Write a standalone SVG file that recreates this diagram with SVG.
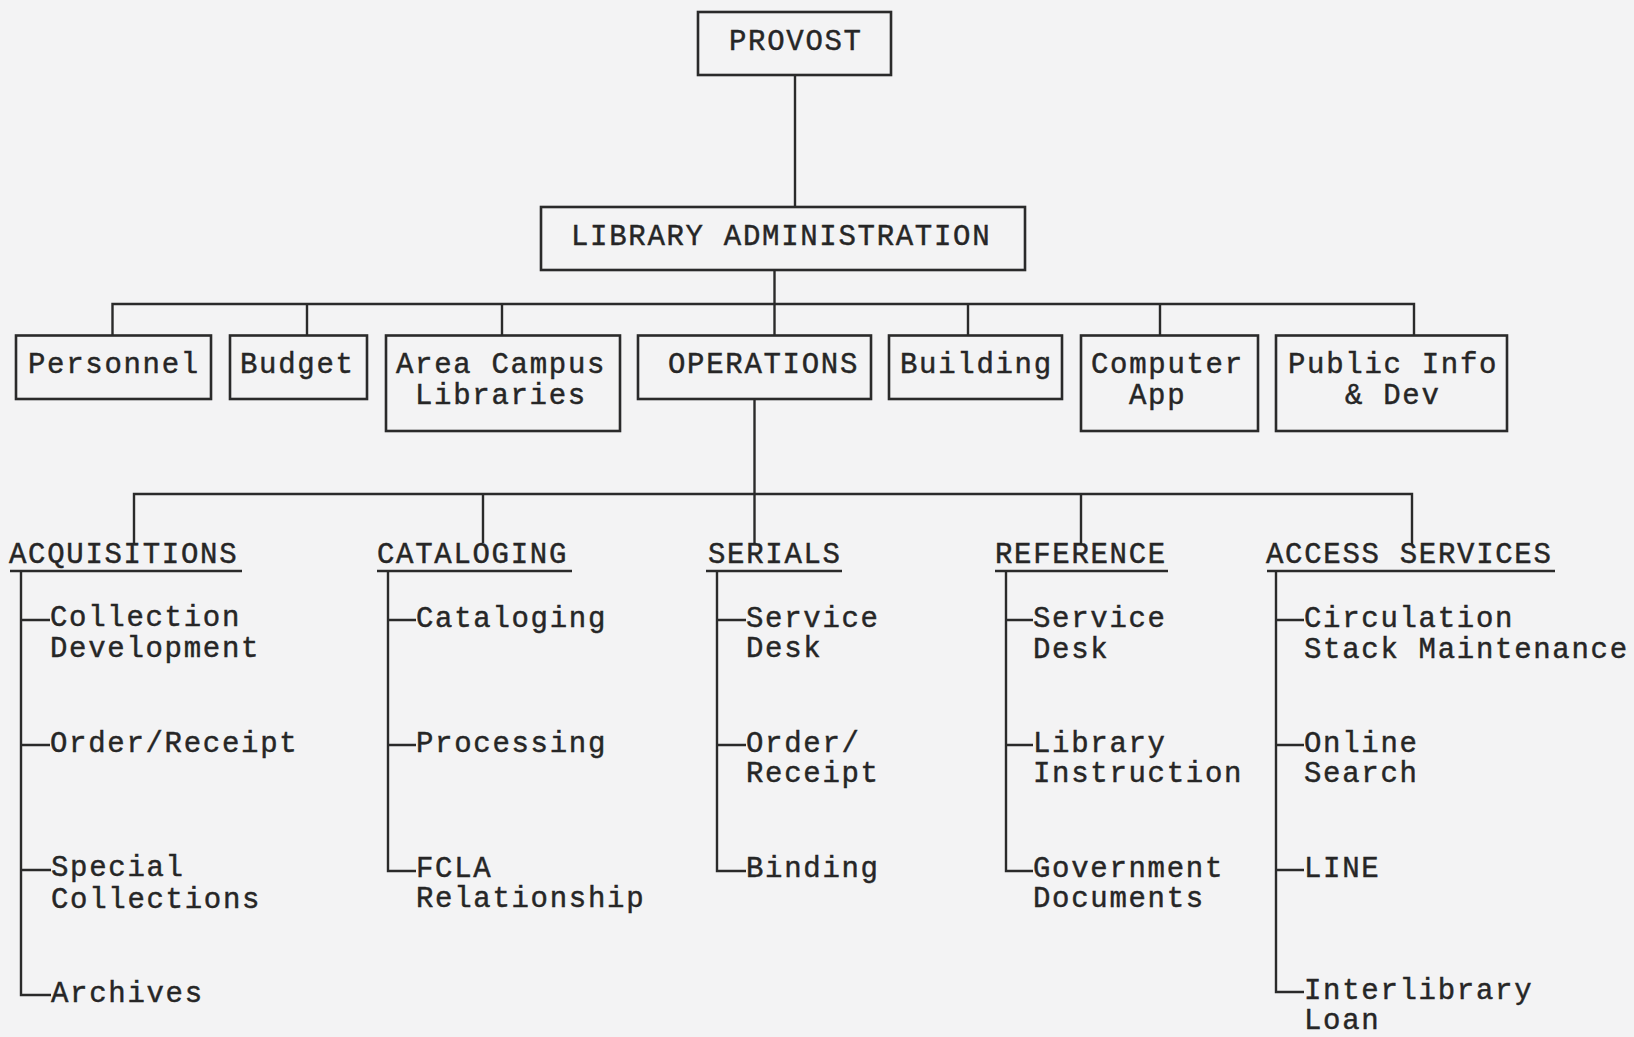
<svg xmlns="http://www.w3.org/2000/svg" width="1634" height="1037" viewBox="0 0 1634 1037">
<style>
.bg{fill:#f3f3f4}
.box{fill:none;stroke:#2a2a2a;stroke-width:2.6}
.ln{fill:none;stroke:#2a2a2a;stroke-width:2.4}
.ul{fill:none;stroke:#2a2a2a;stroke-width:2.6}
text{font-family:"Liberation Mono","Courier New",monospace;font-size:29px;letter-spacing:1.7px;fill:#262626;stroke:#262626;stroke-width:0.45}
</style>
<rect class="bg" x="0" y="0" width="1634" height="1037"/>

<g id="connectors">
  <path class="ln" d="M795,75 V207"/>
  <path class="ln" d="M774.5,270 V335.5"/>
  <path class="ln" d="M112.5,335.5 V304 H1414 V335.5"/>
  <path class="ln" d="M307,304 V335.5 M502,304 V335.5 M968,304 V335.5 M1160,304 V335.5"/>
  <path class="ln" d="M754.5,399 V544"/>
  <path class="ln" d="M134,545 V494 H1412 V545"/>
  <path class="ln" d="M483,494 V543 M1081,494 V545"/>
  <!-- acquisitions -->
  <path class="ln" d="M21,571 V995 H51 M21,620 H50 M21,745 H50 M21,870 H51"/>
  <!-- cataloging -->
  <path class="ln" d="M388,571 V871 H416 M388,620 H416 M388,745 H416"/>
  <!-- serials -->
  <path class="ln" d="M717,571 V871 H746 M717,620 H746 M717,745 H746"/>
  <!-- reference -->
  <path class="ln" d="M1006,571 V871 H1033 M1006,620 H1033 M1006,745 H1033"/>
  <!-- access services -->
  <path class="ln" d="M1276,571 V992 H1304 M1276,620 H1304 M1276,745 H1304 M1276,870 H1304"/>
</g>

<g id="provost">
  <rect class="box" x="698" y="12" width="193" height="63"/>
  <text x="729" y="50">PROVOST</text>
</g>
<g id="library-administration">
  <rect class="box" x="541" y="207" width="484" height="63"/>
  <text x="571" y="245">LIBRARY ADMINISTRATION</text>
</g>

<g id="personnel">
  <rect class="box" x="16" y="335.5" width="195" height="63.5"/>
  <text x="28" y="373">Personnel</text>
</g>
<g id="budget">
  <rect class="box" x="230" y="335.5" width="137" height="63.5"/>
  <text x="240" y="373">Budget</text>
</g>
<g id="area-campus-libraries">
  <rect class="box" x="386" y="335.5" width="234" height="95.5"/>
  <text x="396" y="373">Area Campus</text>
  <text x="415" y="404">Libraries</text>
</g>
<g id="operations">
  <rect class="box" x="638" y="335.5" width="233" height="63.5"/>
  <text x="668" y="373">OPERATIONS</text>
</g>
<g id="building">
  <rect class="box" x="889" y="335.5" width="173" height="63.5"/>
  <text x="900" y="373">Building</text>
</g>
<g id="computer-app">
  <rect class="box" x="1081" y="335.5" width="177" height="95.5"/>
  <text x="1091" y="373">Computer</text>
  <text x="1129" y="404">App</text>
</g>
<g id="public-info-dev">
  <rect class="box" x="1276" y="335.5" width="231" height="95.5"/>
  <text x="1288" y="373">Public Info</text>
  <text x="1345" y="404">&amp; Dev</text>
</g>

<g id="acquisitions">
  <text x="9" y="563">ACQUISITIONS</text>
  <path class="ul" d="M10,571 H242"/>
  <text x="50" y="626">Collection</text>
  <text x="50" y="657">Development</text>
  <text x="50" y="752">Order/Receipt</text>
  <text x="51" y="876">Special</text>
  <text x="51" y="908">Collections</text>
  <text x="51" y="1002">Archives</text>
</g>
<g id="cataloging">
  <text x="377" y="563">CATALOGING</text>
  <path class="ul" d="M377,571 H572"/>
  <text x="416" y="627">Cataloging</text>
  <text x="416" y="752">Processing</text>
  <text x="416" y="877">FCLA</text>
  <text x="416" y="907">Relationship</text>
</g>
<g id="serials">
  <text x="708" y="563">SERIALS</text>
  <path class="ul" d="M706,571 H842"/>
  <text x="746" y="627">Service</text>
  <text x="746" y="657">Desk</text>
  <text x="746" y="752">Order/</text>
  <text x="746" y="782">Receipt</text>
  <text x="746" y="877">Binding</text>
</g>
<g id="reference">
  <text x="995" y="563">REFERENCE</text>
  <path class="ul" d="M995,571 H1168"/>
  <text x="1033" y="627">Service</text>
  <text x="1033" y="658">Desk</text>
  <text x="1033" y="752">Library</text>
  <text x="1033" y="782">Instruction</text>
  <text x="1033" y="877">Government</text>
  <text x="1033" y="907">Documents</text>
</g>
<g id="access-services">
  <text x="1266" y="563">ACCESS SERVICES</text>
  <path class="ul" d="M1267,571 H1555"/>
  <text x="1304" y="627">Circulation</text>
  <text x="1304" y="658">Stack Maintenance</text>
  <text x="1304" y="752">Online</text>
  <text x="1304" y="782">Search</text>
  <text x="1304" y="877">LINE</text>
  <text x="1304" y="999">Interlibrary</text>
  <text x="1304" y="1029">Loan</text>
</g>
</svg>
